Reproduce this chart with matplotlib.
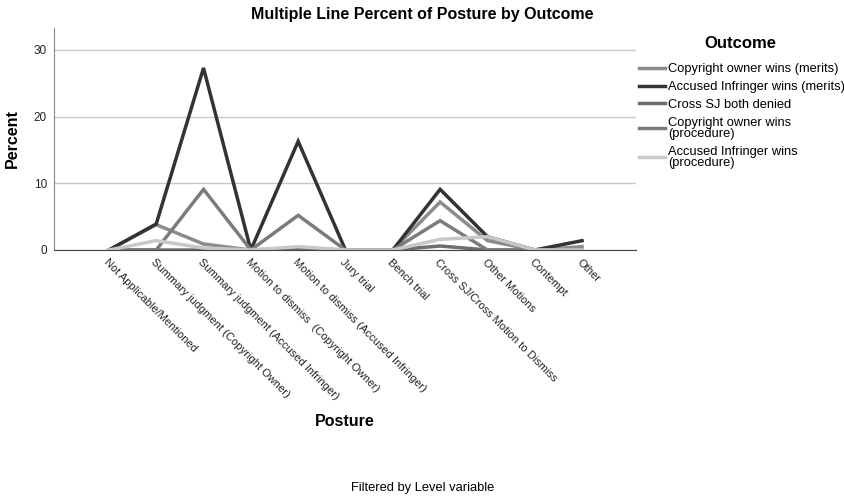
import matplotlib
matplotlib.use("Agg")
import matplotlib.pyplot as plt

plt.rcParams['font.family'] = ['Liberation Sans', 'DejaVu Sans']

categories = ["Not Applicable/Mentioned", "Summary judgment (Copyright Owner)",
              "Summary judgment (Accused Infringer)", "Motion to dismiss  (Copyright Owner)",
              "Motion to dismiss (Accused Infringer)", "Jury trial", "Bench trial",
              "Cross SJ/Cross Motion to Dismiss", "Other Motions", "Contempt", "Other"]

series_names = ["Copyright owner wins (merits)", "Accused Infringer wins (merits)",
                "Cross SJ both denied", "Copyright owner wins\n(procedure)",
                "Accused Infringer wins\n(procedure)"]

co_merits = [0, 3.8, 0.9, 0, 0.3, 0, 0, 7.2, 1.4, 0, 0.5]
ai_merits = [0, 3.9, 27.3, 0, 16.3, 0, 0, 9.1, 2.0, 0, 1.4]
cross_sj = [0, 0, 0, 0, 0.1, 0, 0, 0.6, 0, 0, 0]
co_proc = [0, 0, 9.1, 0, 5.2, 0, 0, 4.4, 0, 0, 0]
ai_proc = [0, 1.4, 0.3, 0, 0.5, 0, 0, 1.6, 2.0, 0, 0]

values = [co_merits, ai_merits, cross_sj, co_proc, ai_proc]
colors = ["#8c8c8c", "#333333", "#6e6e6e", "#7c7c7c", "#c8c8c8"]

fig = plt.figure(figsize=(8.45, 4.97), dpi=100)
ax = fig.add_axes([54/845, 1-250/497, (636-54)/845, (250-28)/497])

x = list(range(len(categories)))
for vals, name, col in zip(values, series_names, colors):
    ax.plot(x, vals, color=col, lw=2.5, label=name, solid_joinstyle='miter')

ax.set_xlim(-1.16, 11.14)
ax.set_ylim(0, 33.3)
ax.set_yticks([0, 10, 20, 30])
ax.yaxis.grid(True, color="#c8c8c8", lw=1)
ax.set_axisbelow(True)
for s in ["top", "right"]:
    ax.spines[s].set_visible(False)
ax.spines["left"].set_color("#888888")
ax.spines["bottom"].set_color("#444444")
ax.tick_params(length=0, labelsize=8.5, colors="#222222", pad=5)
ax.set_xticks(x)
ax.set_xticklabels(categories, rotation=-45, ha='left', va='top',
                   rotation_mode='anchor', fontsize=8)
ax.set_ylabel("Percent", fontsize=11.5, fontweight='bold', labelpad=10)
ax.set_xlabel("Posture", fontsize=11.5, fontweight='bold')
ax.xaxis.set_label_coords(0.5, 1 - (422 - 28) / 222)
ax.xaxis.label.set_va('center')

fig.text(0.5, 1-15/497, "Multiple Line Percent of Posture by Outcome", ha='center',
         va='center', fontsize=11.5, fontweight='bold')

fig.text(740/845, 1-43/497, "Outcome", ha='center', va='center',
         fontsize=12, fontweight='bold')
leg = fig.legend(loc='upper left', bbox_to_anchor=(634/845, 1-58/497), frameon=False,
                 fontsize=9.3, handlelength=2.0, handletextpad=0.25,
                 labelspacing=0.45, borderaxespad=0)
for t in leg.get_texts():
    t.set_linespacing(0.9)

fig.text(0.5, 1-488/497, "Filtered by Level variable", ha='center', va='center',
         fontsize=9.3)

fig.savefig("out.png", dpi=100)
